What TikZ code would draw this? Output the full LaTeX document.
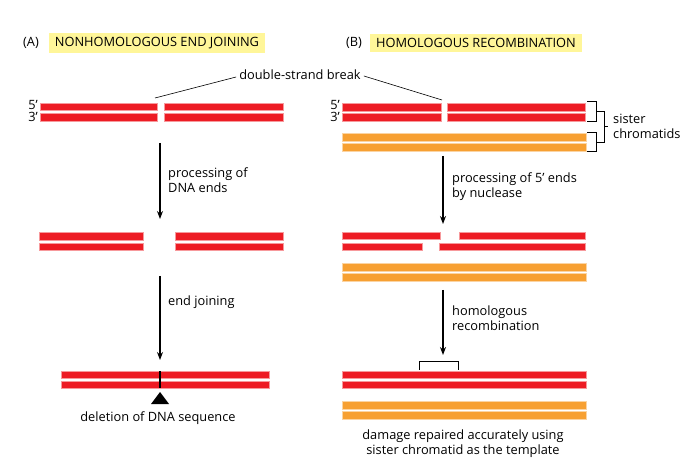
\documentclass[tikz,border=0pt]{standalone}
\usepackage{fontspec}
\setmainfont{Open Sans}
\usepackage{tikz}

\definecolor{dnared}{RGB}{237,28,36}
\definecolor{sisterorange}{RGB}{247,160,50}
\definecolor{titleyellow}{RGB}{255,246,153}

\tikzset{
  strand/.style={fill=dnared, draw=dnared!45!white, line width=0.4pt},
  sister/.style={fill=sisterorange, draw=sisterorange!45!white, line width=0.4pt},
  steparrow/.style={-{Stealth[length=8pt,width=6pt]}, line width=1.3pt},
  steplabel/.style={right, align=left, font=\fontsize{12.8}{15}\selectfont, inner sep=0pt},
  titlebox/.style={fill=titleyellow, inner xsep=6pt, inner ysep=4pt, font=\fontsize{12.8}{15}\selectfont},
  lbl/.style={font=\fontsize{12.8}{15}\selectfont, inner sep=0pt}
}
\usetikzlibrary{arrows.meta}

\begin{document}
\begin{tikzpicture}[x=1pt,y=-1pt]
		\useasboundingbox (0,0) rectangle (686,473);
		% titles
		\node [lbl] (tagA) at (31,43) {(A)};
		\node [titlebox] (titleA) at (157,43) {NONHOMOLOGOUS END JOINING};
		\node [lbl] (tagB) at (354,43) {(B)};
		\node [titlebox] (titleB) at (476,43) {HOMOLOGOUS RECOMBINATION};
		% double-strand break label
		\node [lbl] (dsb) at (300,75) {double-strand break};
		\coordinate (breakA) at (155,98);
		\coordinate (breakB) at (442,100);
		\draw[line width=0.6pt] (dsb.west) ++(-3,2) -- (breakA);
		\draw[line width=0.6pt] (dsb.east) ++(3,1) -- (breakB);
		% (A) broken duplex
		\node [lbl, left] (fiveA) at (38,105) {5’};
		\node [lbl, left] (threeA) at (38,117) {3’};
		\draw[strand] (40,103) rectangle (157,110);
		\draw[strand] (40,113) rectangle (157,121);
		\draw[strand] (164,103) rectangle (283,110);
		\draw[strand] (164,113) rectangle (283,121);
		% (B) broken duplex and sister
		\node [lbl, left] (fiveB) at (340,105) {5’};
		\node [lbl, left] (threeB) at (340,117) {3’};
		\draw[strand] (342,103) rectangle (441,111);
		\draw[strand] (342,113) rectangle (441,121);
		\draw[strand] (447,103) rectangle (585,111);
		\draw[strand] (447,113) rectangle (585,121);
		\draw[sister] (342,133) rectangle (586,141);
		\draw[sister] (342,143) rectangle (586,151);
		% sister chromatid brackets
		\draw[line width=0.7pt] (587,101) -- (596,101) -- (596,121) -- (587,121);
		\draw[line width=0.7pt] (587,132) -- (596,132) -- (596,151) -- (587,151);
		\draw[line width=0.7pt] (596,111) -- (604,111) -- (604,142) -- (596,142);
		\draw[line width=0.7pt] (604,126.5) -- (608,126.5);
		\node [steplabel] (sisterlbl) at (613,126) {sister\\chromatids};
		% step 1
		\coordinate (a1top) at (160,143);
		\coordinate (a1bot) at (160,219);
		\draw[steparrow] (a1top) -- (a1bot);
		\node [steplabel] (a1lbl) at (168,180) {processing of\\DNA ends};
		\coordinate (b1top) at (443,156);
		\coordinate (b1bot) at (443,224);
		\draw[steparrow] (b1top) -- (b1bot);
		\node [steplabel] (b1lbl) at (452,187) {processing of 5’ ends\\by nuclease};
		% (A) processed ends
		\draw[strand] (39,232) rectangle (143,240);
		\draw[strand] (39,243) rectangle (143,250);
		\draw[strand] (175,232) rectangle (283,240);
		\draw[strand] (175,243) rectangle (283,250);
		% (B) resected ends
		\draw[strand] (342,232) rectangle (440,239);
		\draw[strand] (342,243) rectangle (422,250);
		\draw[strand] (459,232) rectangle (585,239);
		\draw[strand] (439,243) rectangle (585,250);
		\draw[sister] (342,263) rectangle (586,271);
		\draw[sister] (342,273) rectangle (586,281);
		% step 2
		\coordinate (a2top) at (160,276);
		\coordinate (a2bot) at (160,360);
		\draw[steparrow] (a2top) -- (a2bot);
		\node [steplabel] (a2lbl) at (168,302) {end joining};
		\coordinate (b2top) at (443,290);
		\coordinate (b2bot) at (443,355);
		\draw[steparrow] (b2top) -- (b2bot);
		\node [steplabel] (b2lbl) at (452,318) {homologous\\recombination};
		% (A) joined
		\draw[strand] (61,371) rectangle (269,378);
		\draw[strand] (61,381) rectangle (269,388);
		\draw[line width=1.6pt] (160,371) -- (160,388);
		\fill (160,392) -- (169,404) -- (151,404) -- cycle;
		\node [lbl] (delA) at (158,418) {deletion of DNA sequence};
		% (B) repaired
		\draw[line width=0.7pt] (419,370) -- (419,361) -- (458,361) -- (458,370);
		\draw[strand] (342,371) rectangle (586,378);
		\draw[strand] (342,381) rectangle (586,388);
		\draw[sister] (342,401) rectangle (586,409);
		\draw[sister] (342,411) rectangle (586,419);
		\node [lbl, align=center] (repB) at (463,444) {damage repaired accurately using\\sister chromatid as the template};
\end{tikzpicture}
\end{document}
